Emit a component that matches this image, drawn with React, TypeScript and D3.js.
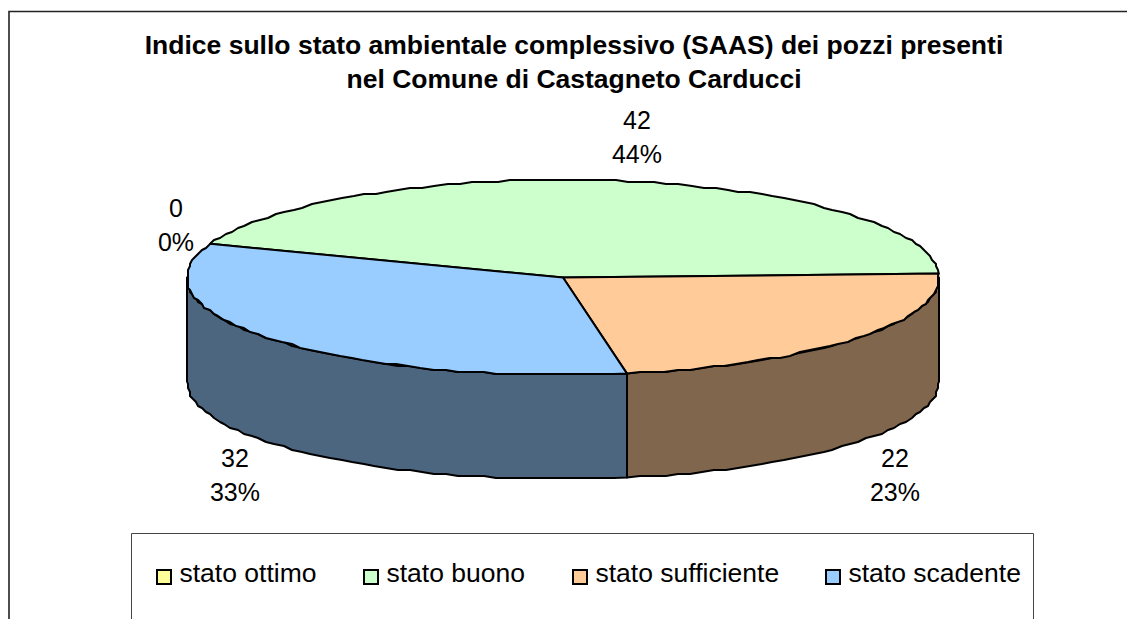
import React from 'react';
import * as d3 from 'd3';

const categories = ['stato ottimo', 'stato buono', 'stato sufficiente', 'stato scadente'];
const values = [0, 42, 22, 32];
const percents = ['0%', '44%', '23%', '33%'];
const topColors = ['#FFFF99', '#CCFFCC', '#FFCC99', '#99CCFF'];
const sideColors = ['#80804D', '#668066', '#80664D', '#4D6680'];
const titleLines = [
  'Indice sullo stato ambientale complessivo (SAAS) dei pozzi presenti',
  'nel Comune di Castagneto Carducci',
];

const FONT = '"Liberation Sans", Arial, sans-serif';
const cx = 563;
const cy = 277.5;
const rx = 376;
const ry = 97.5;
const depth = 104;
const startDeg = 290.2;

// tilted pie: d3 angles go clockwise from 12 o'clock
const xScale = d3.scaleLinear().domain([-1, 1]).range([cx - rx, cx + rx]);
const yScale = d3.scaleLinear().domain([-1, 1]).range([cy - ry, cy + ry]);

const pie = d3.pie<number>()
  .sort(null)
  .startAngle((startDeg * Math.PI) / 180)
  .endAngle(((startDeg + 360) * Math.PI) / 180);

// the original rim is a coarse, stepped polygon, so snap the samples to a grid
const snap = (v: number) => Math.round(v / 2) * 2;

function rimPoints(a0: number, a1: number, offset: number): [number, number][] {
  const steps = Math.max(2, Math.ceil((a1 - a0) / 0.035));
  return d3.range(steps + 1).map((i) => {
    const a = a0 + ((a1 - a0) * i) / steps;
    const x = xScale(Math.sin(a));
    const y = yScale(-Math.cos(a));
    // keep the slice ends exact so the radii meet the rim cleanly
    if (i === 0 || i === steps) return [x, y + offset] as [number, number];
    return [snap(x), snap(y) + offset] as [number, number];
  });
}

const line = d3.line();

// front wall visible between 3 and 9 o'clock
function wallPath(a0: number, a1: number): string | null {
  const PI = Math.PI;
  for (const shift of [0, 2 * PI, -2 * PI]) {
    const s = Math.max(a0 + shift, PI / 2);
    const e = Math.min(a1 + shift, (3 * PI) / 2);
    if (e > s) {
      const top = rimPoints(s, e, 0);
      const bottom = rimPoints(s, e, depth).reverse();
      return line([...top, ...bottom]) + 'Z';
    }
  }
  return null;
}

function slicePath(a0: number, a1: number): string {
  return line([[cx, cy], ...rimPoints(a0, a1, 0)]) + 'Z';
}

const labelPos = [
  { x: 176, y: 217 },
  { x: 637, y: 128.5 },
  { x: 895, y: 467 },
  { x: 235, y: 467 },
];
const legendX = [157, 364, 573, 826];

export default function App() {
  const arcs = pie(values);
  return (
    <svg
      width={1127}
      height={619}
      style={{ position: 'absolute', left: 0, top: 0, background: '#fff' }}
      fontFamily={FONT}
    >
      <path d="M9,619V11.5H1127" fill="none" stroke="#222" strokeWidth={1.6} />
      {titleLines.map((t, i) => (
        <text key={t} x={574} y={54 + i * 34} textAnchor="middle" fontSize={26.5} fontWeight="bold" fill="#000">
          {t}
        </text>
      ))}
      {arcs.map((a, i) => {
        const d = wallPath(a.startAngle, a.endAngle);
        return d && a.value > 0 ? (
          <path key={'w' + i} d={d} fill={sideColors[i]} stroke="#000" strokeWidth={2} strokeLinejoin="round" />
        ) : null;
      })}
      {arcs.map((a, i) =>
        a.value > 0 ? (
          <path key={'t' + i} d={slicePath(a.startAngle, a.endAngle)} fill={topColors[i]} stroke="#000" strokeWidth={2} strokeLinejoin="round" />
        ) : null
      )}
      {values.map((v, i) => (
        <g key={'l' + i} fontSize={25} textAnchor="middle" fill="#000">
          <text x={labelPos[i].x} y={labelPos[i].y}>{v}</text>
          <text x={labelPos[i].x} y={labelPos[i].y + 34}>{percents[i]}</text>
        </g>
      ))}
      <path d="M131.5,619V533.5H1033.5V619" fill="#fff" stroke="#444" strokeWidth={1} />
      {categories.map((c, i) => (
        <g key={c}>
          <rect x={legendX[i]} y={570} width={14} height={14} fill={topColors[i]} stroke="#000" strokeWidth={2} />
          <text x={legendX[i] + 22.5} y={582} fontSize={26.5} fill="#000">{c}</text>
        </g>
      ))}
    </svg>
  );
}
